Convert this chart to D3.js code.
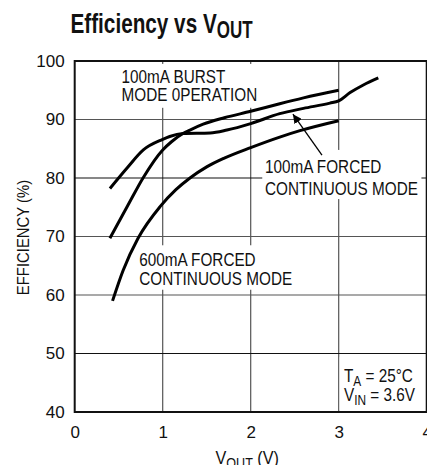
<!DOCTYPE html>
<html>
<head>
<meta charset="utf-8">
<script src="https://cdn.jsdelivr.net/npm/d3@7"></script>
<style>
  body { margin: 0; background: #fff; }
  svg text { font-family: "Liberation Sans", Arial, sans-serif; fill: #111; }
</style>
</head>
<body>
<div id="chart"></div>
<script>
// tick values
const xTicks = [0, 1, 2, 3, 4]
const yTicks = [40, 50, 60, 70, 80, 90, 100]

// 100mA forced continuous mode
const vout_fcm100 = [0.4, 0.6, 0.78, 1.0, 1.08, 1.23, 1.54, 1.73, 2.0, 2.33, 2.6, 2.9, 3.0, 3.13, 3.28, 3.45]
const eff_fcm100  = [78.2, 81.8, 84.8, 86.6, 87.1, 87.6, 87.7, 88.2, 89.3, 91.0, 91.9, 92.8, 93.2, 94.6, 95.9, 97.1]

// 100mA burst mode operation
const vout_burst = [0.4, 0.6, 0.78, 1.0, 1.1, 1.23, 1.31, 1.46, 1.7, 2.0, 2.33, 2.6, 3.0]
const eff_burst  = [69.7, 75.2, 80.1, 84.8, 86.2, 87.6, 88.2, 89.2, 90.3, 91.4, 92.7, 93.7, 95.0]

// 600mA forced continuous mode
const vout_fcm600 = [0.43, 0.55, 0.72, 0.97, 1.15, 1.31, 1.5, 1.7, 2.0, 2.33, 2.56, 3.0]
const eff_fcm600  = [59.0, 64.2, 69.7, 75.1, 78.0, 80.0, 81.9, 83.4, 85.2, 87.0, 88.1, 89.8]

const series = [
  {name: "100mA FCM", v: vout_fcm100, e: eff_fcm100},
  {name: "100mA Burst", v: vout_burst, e: eff_burst},
  {name: "600mA FCM", v: vout_fcm600, e: eff_fcm600}
]

const W = 427, H = 465
const margin = {top: 61, right: 0.3, bottom: 53, left: 74.7}
const width = W - margin.left - margin.right,
      height = H - margin.top - margin.bottom

const root = d3.select("#chart").append("svg")
  .attr("width", W)
  .attr("height", H)

// condensed text: a text squeezed horizontally
function ctext(parent, px, py, sx, size, rot) {
  return parent.append("g")
    .attr("transform", `translate(${px},${py})` + (rot ? ` rotate(${rot})` : "") + ` scale(${sx},1)`)
    .append("text")
      .style("font-size", size + "px")
}

// title
const title = ctext(root, 70.5, 33.3, 0.74, 28)
  .style("font-weight", "bold")
title.append("tspan").text("Efficiency vs V")
title.append("tspan").text("OUT").attr("dy", 5).style("font-size", "23px")

const svg = root.append("g")
  .attr("transform", `translate(${margin.left},${margin.top})`)

const x = d3.scaleLinear().domain([0, 4]).range([0, width])
const y = d3.scaleLinear().domain([40, 100]).range([height, 0])

// grid
svg.append("g")
  .selectAll("line")
  .data(xTicks.slice(1, -1))
  .join("line")
    .attr("x1", d => x(d)).attr("x2", d => x(d))
    .attr("y1", 0).attr("y2", height)
    .attr("stroke", "#555")
    .attr("stroke-width", 1.2)
svg.append("g")
  .selectAll("line")
  .data(yTicks.slice(1, -1))
  .join("line")
    .attr("x1", 0).attr("x2", width)
    .attr("y1", d => y(d)).attr("y2", d => y(d))
    .attr("stroke", d => (d == 80 || d == 50) ? "#111" : "#555")
    .attr("stroke-width", 1.2)

// axes (labels only, frame drawn separately)
const xAxis = svg.append("g")
  .attr("transform", `translate(0,${height})`)
  .call(d3.axisBottom(x).tickValues(xTicks).tickFormat(d3.format("d")).tickSize(0).tickPadding(14))
xAxis.select(".domain").remove()
xAxis.selectAll("text")
  .attr("font-family", null)
  .style("font-size", "17px")

const yAxis = svg.append("g")
  .call(d3.axisLeft(y).tickValues(yTicks).tickFormat(d3.format("d")).tickSize(0).tickPadding(10))
yAxis.select(".domain").remove()
yAxis.selectAll("text")
  .attr("font-family", null)
  .style("font-size", "17px")

// axis titles
ctext(svg, -45.6, height / 2 + 1, 0.93, 16, -90)
  .attr("text-anchor", "middle")
  .text("EFFICIENCY (%)")

const xl = ctext(svg, x(2) - 3.5, height + 52, 0.9, 18)
  .attr("text-anchor", "middle")
xl.append("tspan").text("V")
xl.append("tspan").text("OUT").attr("dy", 4).style("font-size", "14px")
xl.append("tspan").text(" (V)").attr("dy", -4)

// white boxes behind labels
const boxes = [
  {x0: 0.49, x1: 2.13, y0: 99.5, y1: 92.0},
  {x0: 2.12, x1: 3.94, y0: 84.8, y1: 76.4},
  {x0: 0.685, x1: 2.5, y0: 68.5, y1: 60.9},
  {x0: 3.0, x1: 4.0, y0: 49.4, y1: 40.3}
]
svg.append("g")
  .selectAll("rect")
  .data(boxes)
  .join("rect")
    .attr("x", d => x(d.x0) + 1)
    .attr("y", d => y(d.y0))
    .attr("width", d => x(d.x1) - x(d.x0) - 1)
    .attr("height", d => y(d.y1) - y(d.y0))
    .attr("fill", "#fff")

// curves
const line = d3.line()
  .x(d => x(d[0]))
  .y(d => y(d[1]))
  .curve(d3.curveMonotoneX)

svg.append("g")
  .selectAll("path")
  .data(series)
  .join("path")
    .attr("d", s => line(s.v.map((v, i) => [v, s.e[i]])))
    .attr("fill", "none")
    .attr("stroke", "#000")
    .attr("stroke-width", 3)

// frame
svg.append("rect")
  .attr("x", 0).attr("y", 0)
  .attr("width", width).attr("height", height)
  .attr("fill", "none")
  .attr("stroke", "#111")
  .attr("stroke-width", 2)

// labels
function label(lines, vx, vy, dy) {
  const t = ctext(svg, x(vx), y(vy), 0.85, 18)
  lines.forEach((l, i) => {
    t.append("tspan").attr("x", 0).attr("dy", i == 0 ? 0 : dy).text(l)
  })
}
label(["100mA BURST", "MODE 0PERATION"], 0.533, 96.3, 18.6)
label(["100mA FORCED", "CONTINUOUS MODE"], 2.163, 80.8, 21.7)
label(["600mA FORCED", "CONTINUOUS MODE"], 0.734, 65.0, 19)

// conditions
const c1 = ctext(svg, x(3.06), y(45.2), 0.85, 18)
c1.append("tspan").text("T")
c1.append("tspan").text("A").attr("dy", 4).style("font-size", "14px")
c1.append("tspan").text(" = 25°C").attr("dy", -4)
const c2 = ctext(svg, x(3.06), y(41.9), 0.85, 18)
c2.append("tspan").text("V")
c2.append("tspan").text("IN").attr("dy", 4).style("font-size", "14px")
c2.append("tspan").text(" = 3.6V").attr("dy", -4)

// arrow
root.append("defs").append("marker")
  .attr("id", "head")
  .attr("viewBox", "0 0 10 10")
  .attr("refX", 10).attr("refY", 5)
  .attr("markerWidth", 9).attr("markerHeight", 9)
  .attr("markerUnits", "userSpaceOnUse")
  .attr("orient", "auto")
  .append("path")
    .attr("d", "M0,0L10,5L0,10z")
    .attr("fill", "#000")
svg.append("line")
  .attr("x1", x(2.81)).attr("y1", y(83.9))
  .attr("x2", x(2.48)).attr("y2", y(90.9))
  .attr("stroke", "#000")
  .attr("stroke-width", 1.3)
  .attr("marker-end", "url(#head)")
</script>
</body>
</html>
